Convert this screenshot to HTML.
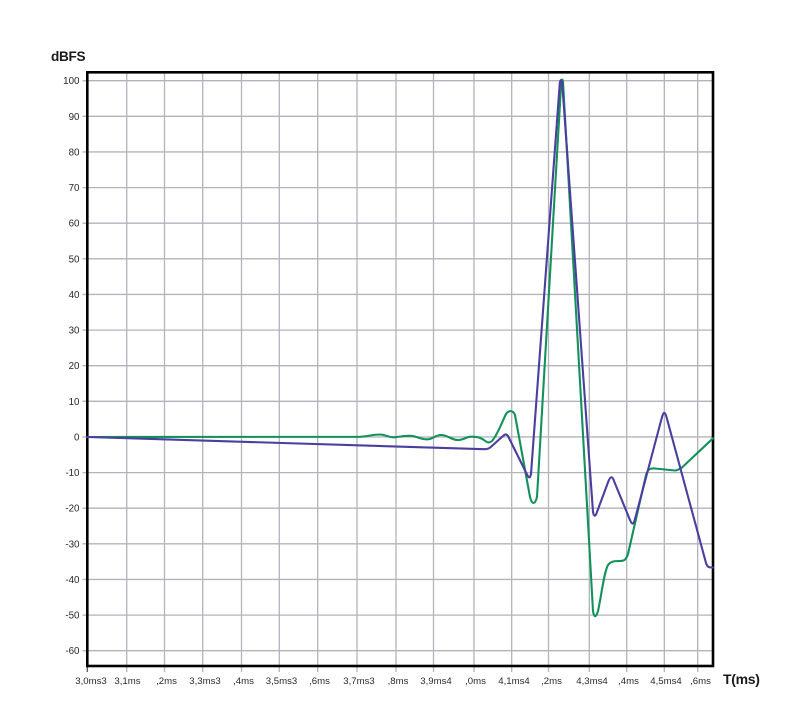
<!DOCTYPE html>
<html>
<head>
<meta charset="utf-8">
<style>
html,body{margin:0;padding:0;background:#fff;}
svg{display:block;}
text{font-family:"Liberation Sans",Arial,sans-serif;}
</style>
</head>
<body>
<svg width="800" height="726" viewBox="0 0 800 726" xmlns="http://www.w3.org/2000/svg">
<rect width="800" height="726" fill="#fff"/>
<!-- vertical grid -->
<g stroke="#b3b3bb" stroke-width="1.3" fill="none">
<line x1="126.7" y1="72" x2="126.7" y2="672"/>
<line x1="164.5" y1="72" x2="164.5" y2="672"/>
<line x1="202.7" y1="72" x2="202.7" y2="672"/>
<line x1="241.5" y1="72" x2="241.5" y2="672"/>
<line x1="279.3" y1="72" x2="279.3" y2="672"/>
<line x1="317.7" y1="72" x2="317.7" y2="672"/>
<line x1="357" y1="72" x2="357" y2="672"/>
<line x1="396" y1="72" x2="396" y2="672"/>
<line x1="433.5" y1="72" x2="433.5" y2="672"/>
<line x1="474" y1="72" x2="474" y2="672"/>
<line x1="511.7" y1="72" x2="511.7" y2="672"/>
<line x1="548.5" y1="72" x2="548.5" y2="672"/>
<line x1="589.3" y1="72" x2="589.3" y2="672"/>
<line x1="626.7" y1="72" x2="626.7" y2="672"/>
<line x1="664.3" y1="72" x2="664.3" y2="672"/>
<line x1="697.7" y1="72" x2="697.7" y2="672"/>
</g>
<!-- horizontal grid -->
<g stroke="#b3b3bb" stroke-width="1.3" fill="none">
<line x1="82.5" y1="80.7" x2="713" y2="80.7"/>
<line x1="82.5" y1="116.3" x2="713" y2="116.3"/>
<line x1="82.5" y1="151.95" x2="713" y2="151.95"/>
<line x1="82.5" y1="187.6" x2="713" y2="187.6"/>
<line x1="82.5" y1="223.2" x2="713" y2="223.2"/>
<line x1="82.5" y1="258.8" x2="713" y2="258.8"/>
<line x1="82.5" y1="294.45" x2="713" y2="294.45"/>
<line x1="82.5" y1="330.1" x2="713" y2="330.1"/>
<line x1="82.5" y1="365.7" x2="713" y2="365.7"/>
<line x1="82.5" y1="401.3" x2="713" y2="401.3"/>
<line x1="82.5" y1="436.95" x2="713" y2="436.95"/>
<line x1="82.5" y1="472.6" x2="713" y2="472.6"/>
<line x1="82.5" y1="508.2" x2="713" y2="508.2"/>
<line x1="82.5" y1="543.8" x2="713" y2="543.8"/>
<line x1="82.5" y1="579.45" x2="713" y2="579.45"/>
<line x1="82.5" y1="615.1" x2="713" y2="615.1"/>
<line x1="82.5" y1="650.7" x2="713" y2="650.7"/>
</g>
<!-- x tick at axis start -->
<line x1="87.3" y1="666" x2="87.3" y2="672" stroke="#555" stroke-width="1.3"/>
<!-- frame -->
<rect x="87.3" y="72.3" width="625.7" height="593.7" fill="none" stroke="#000" stroke-width="2.6"/>

<!-- Y labels -->
<g font-size="9.8" fill="#2a2a2a" text-anchor="end">
<text x="79.5" y="84.2">100</text>
<text x="79.5" y="119.8">90</text>
<text x="79.5" y="155.4">80</text>
<text x="79.5" y="191.1">70</text>
<text x="79.5" y="226.7">60</text>
<text x="79.5" y="262.3">50</text>
<text x="79.5" y="297.9">40</text>
<text x="79.5" y="333.6">30</text>
<text x="79.5" y="369.2">20</text>
<text x="79.5" y="404.8">10</text>
<text x="79.5" y="440.4">0</text>
<text x="79.5" y="476.1">-10</text>
<text x="79.5" y="511.7">-20</text>
<text x="79.5" y="547.3">-30</text>
<text x="79.5" y="582.9">-40</text>
<text x="79.5" y="618.6">-50</text>
<text x="79.5" y="654.2">-60</text>
</g>
<!-- X labels -->
<g font-size="9.6" fill="#2a2a2a" text-anchor="middle">
<text x="91" y="684">3,0ms3</text>
<text x="127.5" y="684">3,1ms</text>
<text x="166.5" y="684">,2ms</text>
<text x="205" y="684">3,3ms3</text>
<text x="243.5" y="684">,4ms</text>
<text x="281.5" y="684">3,5ms3</text>
<text x="319.5" y="684">,6ms</text>
<text x="359" y="684">3,7ms3</text>
<text x="398" y="684">,8ms</text>
<text x="436" y="684">3,9ms4</text>
<text x="475.5" y="684">,0ms</text>
<text x="514" y="684">4,1ms4</text>
<text x="551.5" y="684">,2ms</text>
<text x="592" y="684">4,3ms4</text>
<text x="628.5" y="684">,4ms</text>
<text x="666" y="684">4,5ms4</text>
<text x="700.5" y="684">,6ms</text>
</g>
<text x="51" y="61" font-size="13.6" fill="#1a1a1a" font-weight="bold" letter-spacing="-0.3">dBFS</text>
<text x="723" y="684" font-size="14" fill="#1a1a1a" font-weight="bold" letter-spacing="-0.3">T(ms)</text>

<!-- green series -->
<path fill="none" stroke="#13915a" stroke-width="2.1" stroke-linejoin="round" stroke-linecap="round"
d="M87,437 L360,436.8 C368,436.5 372,434.5 380,434.5 C386,434.5 388,437.5 394,437.3 C400,437 404,435.5 410,435.8 C417,436 420,439.3 427,439.3 C433,439.3 435,435 441,435 C448,435 451,440 458,440 C464,440 466,436.7 471,436.7 C477,436.7 480,437.5 484,440 C487,442.5 489,443.5 492,441 C498,434 502,422 506,414 C509,410 513,410 515,415 L530,497 C532,505 535,505 537,497 L561.3,81 C562,79 562.5,79 563,82 L593,611 C594,618 596,618 598,611 C601,598 604,572 608,565 C611,561 615,561 620,561 C624,561 626,560 628,554 L646,475 C648,469 650,468 655,468.5 L675,470.5 C677,470.5 679,469.5 682,467.5 L713,438.3"/>

<!-- blue series -->
<path fill="none" stroke="#4a3f9e" stroke-width="2.1" stroke-linejoin="round" stroke-linecap="round"
d="M87,437 L484,449.2 C488,449.4 490,448 493,445 L503,436 C505.5,433.5 507,434 508.5,437 L527,474.5 C529,478.5 530,478.5 531,474 L559.8,83 C560.5,79 561.5,79 562.2,83 L593,512 C594,517 595.5,517 597,512 L608.5,481 C610.5,476 612.5,476 614,481 L630,520 C632,525 633.5,525 635,519 L662,417 C663.5,411.5 665,411.5 666.5,417 L706,563 C707.5,567.5 709,567.5 713,567.5"/>
</svg>
</body>
</html>
